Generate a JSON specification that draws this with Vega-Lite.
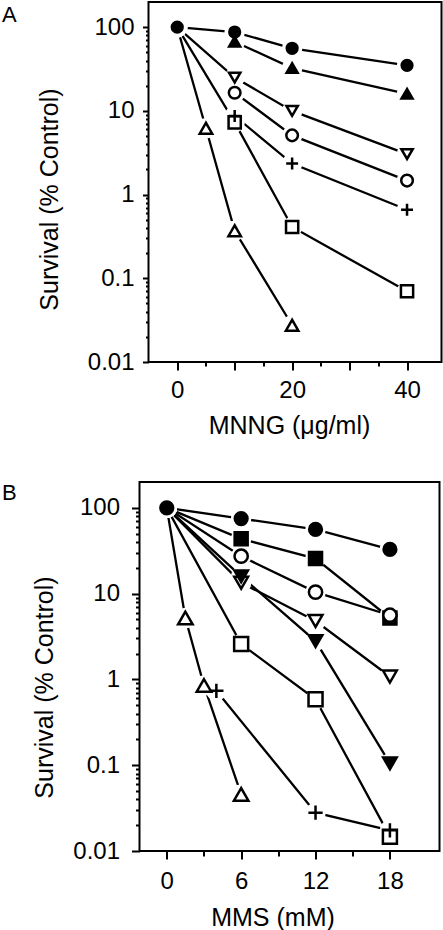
{
  "$schema": "https://vega.github.io/schema/vega-lite/v6.json",
  "padding": {"left": 2, "top": 1, "right": 0, "bottom": 0},
  "spacing": 42,
  "data": {"values": [
    {"panel": "A", "series": "a1", "x": 0, "y": 100},
    {"panel": "A", "series": "a1", "x": 10, "y": 87.5},
    {"panel": "A", "series": "a1", "x": 20, "y": 56},
    {"panel": "A", "series": "a1", "x": 40, "y": 35},
    {"panel": "A", "series": "a2", "x": 10, "y": 67},
    {"panel": "A", "series": "a2", "x": 20, "y": 32.5},
    {"panel": "A", "series": "a2", "x": 40, "y": 16},
    {"panel": "A", "series": "a3", "x": 0, "y": 100},
    {"panel": "A", "series": "a3", "x": 10, "y": 25},
    {"panel": "A", "series": "a3", "x": 20, "y": 10},
    {"panel": "A", "series": "a3", "x": 40, "y": 3.05},
    {"panel": "A", "series": "a4", "x": 10, "y": 16.5},
    {"panel": "A", "series": "a4", "x": 20, "y": 5.1},
    {"panel": "A", "series": "a4", "x": 40, "y": 1.47},
    {"panel": "A", "series": "a6", "x": 0, "y": 100},
    {"panel": "A", "series": "a6", "x": 10, "y": 7.3},
    {"panel": "A", "series": "a6", "x": 20, "y": 0.41},
    {"panel": "A", "series": "a6", "x": 40, "y": 0.07},
    {"panel": "A", "series": "a7", "x": 0, "y": 100},
    {"panel": "A", "series": "a7", "x": 5, "y": 6.2},
    {"panel": "A", "series": "a7", "x": 10, "y": 0.37},
    {"panel": "A", "series": "a7", "x": 20, "y": 0.0275},
    {"panel": "A", "series": "a5", "x": 10, "y": 8.7},
    {"panel": "A", "series": "a5", "x": 20, "y": 2.35},
    {"panel": "A", "series": "a5", "x": 40, "y": 0.66},
    {"panel": "B", "series": "b1", "x": 0, "y": 100},
    {"panel": "B", "series": "b1", "x": 6, "y": 75},
    {"panel": "B", "series": "b1", "x": 12, "y": 56},
    {"panel": "B", "series": "b1", "x": 18, "y": 32.7},
    {"panel": "B", "series": "b2", "x": 0, "y": 100},
    {"panel": "B", "series": "b2", "x": 6, "y": 43.5},
    {"panel": "B", "series": "b2", "x": 12, "y": 25.6},
    {"panel": "B", "series": "b2", "x": 18, "y": 5.2},
    {"panel": "B", "series": "b3", "x": 0, "y": 100},
    {"panel": "B", "series": "b3", "x": 6, "y": 27.3},
    {"panel": "B", "series": "b3", "x": 12, "y": 10.4},
    {"panel": "B", "series": "b3", "x": 18, "y": 5.6},
    {"panel": "B", "series": "b5", "x": 0, "y": 100},
    {"panel": "B", "series": "b5", "x": 6, "y": 13.4},
    {"panel": "B", "series": "b5", "x": 12, "y": 4.8},
    {"panel": "B", "series": "b5", "x": 18, "y": 1.08},
    {"panel": "B", "series": "b4", "x": 0, "y": 100},
    {"panel": "B", "series": "b4", "x": 6, "y": 15.9},
    {"panel": "B", "series": "b4", "x": 12, "y": 2.8},
    {"panel": "B", "series": "b4", "x": 18, "y": 0.105},
    {"panel": "B", "series": "b6", "x": 0, "y": 100},
    {"panel": "B", "series": "b6", "x": 6, "y": 2.58},
    {"panel": "B", "series": "b6", "x": 12, "y": 0.587},
    {"panel": "B", "series": "b6", "x": 18, "y": 0.0147},
    {"panel": "B", "series": "b8", "x": 0, "y": 100},
    {"panel": "B", "series": "b8", "x": 1.5, "y": 5.2},
    {"panel": "B", "series": "b8", "x": 3, "y": 0.85},
    {"panel": "B", "series": "b8", "x": 6, "y": 0.0457},
    {"panel": "B", "series": "b7", "x": 4, "y": 0.736},
    {"panel": "B", "series": "b7", "x": 12, "y": 0.028},
    {"panel": "B", "series": "b7", "x": 18, "y": 0.0174}
  ]},
  "vconcat": [
    {"spacing": 13.5, "hconcat": [
    {
      "title": {"text": "A", "anchor": "start", "frame": "group", "orient": "top", "offset": 0, "dy": 25, "fontSize": 22, "fontWeight": "normal", "font": "Liberation Sans", "color": "black"},
      "width": 20, "height": 360,
      "view": {"stroke": null},
      "data": {"values": []},
      "mark": {"type": "point", "opacity": 0},
      "encoding": {}
    },
    {
      "width": 293,
      "height": 360,
      "transform": [{"filter": "datum.panel === 'A'"}],
      "encoding": {
        "x": {"field": "x", "type": "quantitative",
          "scale": {"domain": [-5, 46], "nice": false, "zero": false},
          "axis": {"title": "MNNG (μg/ml)", "values": [0, 5, 10, 15, 20, 25, 30, 35, 40],
            "labelExpr": "datum.value % 20 === 0 ? datum.label : ''",
            "tickSize": {"condition": {"test": "datum.value % 10 === 0", "value": 8}, "value": 4},
            "labelPadding": 8, "titlePadding": 11, "titleX": 140.5, "titleY": 51, "titleBaseline": "top"}},
        "y": {"field": "y", "type": "quantitative",
          "scale": {"type": "log", "domain": [0.01, 200], "nice": false},
          "axis": {"title": "Survival (% Control)",
            "values": [0.01,0.02,0.03,0.04,0.05,0.06,0.07,0.08,0.09,0.1,0.2,0.3,0.4,0.5,0.6,0.7,0.8,0.9,1,2,3,4,5,6,7,8,9,10,20,30,40,50,60,70,80,90,100],
            "labelExpr": "indexof([0.01,0.1,1,10,100], datum.value) >= 0 ? format(datum.value, '~g') : ''",
            "tickSize": {"condition": {"test": "indexof([0.01,0.1,1,10,100], datum.value) >= 0", "value": 6}, "value": 3},
            "labelPadding": 8.5, "titlePadding": 25, "titleX": -86.5, "titleY": 197, "titleBaseline": "bottom", "titleAngle": -90}}
      },
      "layer": [
        {"mark": {"type": "line", "color": "black", "strokeWidth": 2.3}, "encoding": {"detail": {"field": "series"}}},
        {"mark": {"type": "point", "shape": "circle", "filled": true, "color": "white", "size": 420, "opacity": 1, "strokeWidth": 0}},
        {"transform": [{"filter": "datum.x > 0 || datum.series === 'a1'"}],
          "mark": {"type": "point", "filled": true, "stroke": "black", "strokeWidth": 2.5, "opacity": 1},
          "encoding": {
            "shape": {"field": "series", "legend": null, "scale": {"domain": ["a1","a2","a3","a4","a5","a6","a7","b1","b2","b3","b4","b5","b6","b7","b8"], "range": ["circle","triangle-up","triangle-down","circle","M-1,0L1,0M0,-1L0,1","square","triangle-up","circle","square","circle","triangle-down","triangle-down","square","M-1,0L1,0M0,-1L0,1","triangle-up"]}},
            "fill": {"field": "series", "legend": null, "scale": {"domain": ["a1","a2","a3","a4","a5","a6","a7","b1","b2","b3","b4","b5","b6","b7","b8"], "range": ["black","black","white","white","white","white","white","black","black","white","black","white","white","white","white"]}},
            "size": {"field": "series", "legend": null, "scale": {"domain": ["a1","a2","a3","a4","a5","a6","a7","b1","b2","b3","b4","b5","b6","b7","b8"], "range": [115,210,210,110,360,150,210,115,160,110,210,210,150,360,210]}}
          }}
      ]
    }]},
    {"spacing": 8.5, "hconcat": [
    {
      "title": {"text": "B", "anchor": "start", "frame": "group", "orient": "top", "offset": 0, "dy": 22.5, "fontSize": 22, "fontWeight": "normal", "font": "Liberation Sans", "color": "black"},
      "width": 20, "height": 369,
      "view": {"stroke": null},
      "data": {"values": []},
      "mark": {"type": "point", "opacity": 0},
      "encoding": {}
    },
    {
      "width": 300,
      "height": 369,
      "transform": [{"filter": "datum.panel === 'B'"}],
      "encoding": {
        "x": {"field": "x", "type": "quantitative",
          "scale": {"domain": [-2.2, 22], "nice": false, "zero": false},
          "axis": {"title": "MMS (mM)", "values": [0, 3, 6, 9, 12, 15, 18],
            "labelExpr": "datum.value % 6 === 0 ? datum.label : ''",
            "tickSize": {"condition": {"test": "datum.value % 6 === 0", "value": 8}, "value": 5},
            "labelPadding": 10, "titlePadding": 12, "titleX": 133, "titleY": 54, "titleBaseline": "top"}},
        "y": {"field": "y", "type": "quantitative",
          "scale": {"type": "log", "domain": [0.01, 200], "nice": false},
          "axis": {"title": "Survival (% Control)",
            "values": [0.01,0.02,0.03,0.04,0.05,0.06,0.07,0.08,0.09,0.1,0.2,0.3,0.4,0.5,0.6,0.7,0.8,0.9,1,2,3,4,5,6,7,8,9,10,20,30,40,50,60,70,80,90,100],
            "labelExpr": "indexof([0.01,0.1,1,10,100], datum.value) >= 0 ? format(datum.value, '~g') : ''",
            "tickSize": {"condition": {"test": "indexof([0.01,0.1,1,10,100], datum.value) >= 0", "value": 8}, "value": 4},
            "labelPadding": 12, "titlePadding": 16, "titleX": -82.5, "titleY": 205, "titleBaseline": "bottom", "titleAngle": -90}}
      },
      "layer": [
        {"mark": {"type": "line", "color": "black", "strokeWidth": 2.3}, "encoding": {"detail": {"field": "series"}}},
        {"mark": {"type": "point", "shape": "circle", "filled": true, "color": "white", "size": 420, "opacity": 1, "strokeWidth": 0}},
        {"transform": [{"filter": "datum.x > 0 || datum.series === 'b1'"}],
          "mark": {"type": "point", "filled": true, "stroke": "black", "strokeWidth": 2.5, "opacity": 1},
          "encoding": {
            "shape": {"field": "series", "legend": null, "scale": {"domain": ["a1","a2","a3","a4","a5","a6","a7","b1","b2","b3","b4","b5","b6","b7","b8"], "range": ["circle","triangle-up","triangle-down","circle","M-1,0L1,0M0,-1L0,1","square","triangle-up","circle","square","circle","triangle-down","triangle-down","square","M-1,0L1,0M0,-1L0,1","triangle-up"]}},
            "fill": {"field": "series", "legend": null, "scale": {"domain": ["a1","a2","a3","a4","a5","a6","a7","b1","b2","b3","b4","b5","b6","b7","b8"], "range": ["black","black","white","white","white","white","white","black","black","white","black","white","white","white","white"]}},
            "size": {"field": "series", "legend": null, "scale": {"domain": ["a1","a2","a3","a4","a5","a6","a7","b1","b2","b3","b4","b5","b6","b7","b8"], "range": [115,210,210,110,360,150,210,115,160,110,210,210,150,360,210]}}
          }}
      ]
    }]}
  ],
  "config": {
    "font": "Liberation Sans",
    "view": {"stroke": "black", "strokeWidth": 2},
    "axis": {"domain": false, "grid": false, "tickColor": "black", "tickWidth": 2,
      "labelColor": "black", "titleColor": "black", "labelFontSize": 24, "titleFontSize": 25,
      "titleFontWeight": "normal", "labelFlush": false, "labelOverlap": false,
      "labelFont": "Liberation Sans", "titleFont": "Liberation Sans"}
  }
}
